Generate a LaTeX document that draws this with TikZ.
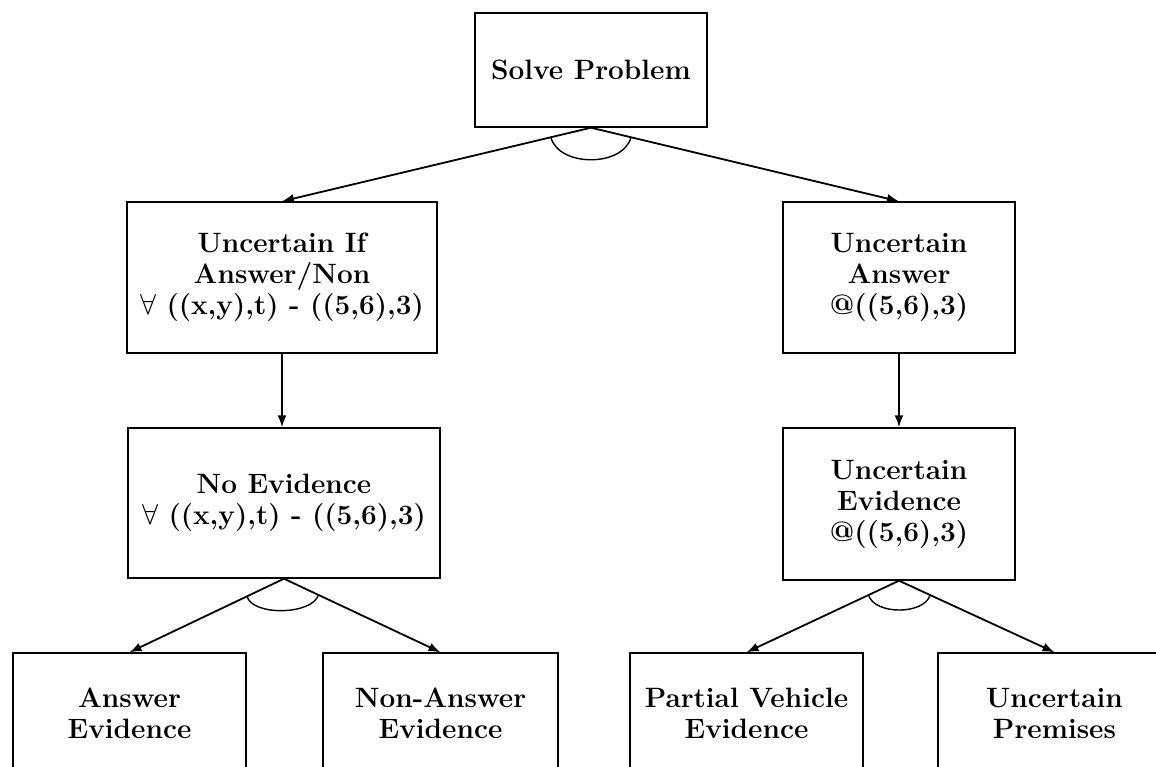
\documentclass[tikz,border=0pt]{standalone}
\usepackage{tikz}
\usetikzlibrary{calc,arrows.meta}

\tikzset{
	goal/.style={draw, line width=0.7pt, align=center, inner sep=2pt, font=\fontsize{14}{15.5}\selectfont\bfseries},
	link/.style={line width=0.9pt, -{Latex[length=6pt,width=4.5pt]}},
	andarc/.style={line width=0.7pt}
}

\begin{document}
\begin{tikzpicture}[x=0.5pt, y=-0.5pt]
			%%%%% START %%%%%
			\useasboundingbox[fill=white] (0, 0) rectangle (1156, 766);
			
			\node[goal, minimum width=116pt, minimum height=57pt] (solve) at (591, 70) {Solve Problem};
			
			\node[goal, minimum width=155pt, minimum height=75.5pt] (ifans) at (282, 277.5) {Uncertain If\\Answer/Non\\\(\forall\) ((x,y),t) - ((5,6),3)};
			\node[goal, minimum width=116pt, minimum height=75.5pt] (unans) at (899, 277.5) {Uncertain\\Answer\\@((5,6),3)};
			
			\node[goal, minimum width=156pt, minimum height=75pt] (noev) at (284, 503) {No Evidence\\\(\forall\) ((x,y),t) - ((5,6),3)};
			\node[goal, minimum width=116pt, minimum height=76pt] (unev) at (899, 504) {Uncertain\\Evidence\\@((5,6),3)};
			
			\node[goal, minimum width=116.5pt, minimum height=60pt] (ansev) at (129.5, 713) {Answer\\Evidence};
			\node[goal, minimum width=117.5pt, minimum height=60pt] (nonev) at (440.5, 713) {Non-Answer\\Evidence};
			\node[goal, minimum width=116.5pt, minimum height=60pt] (partev) at (746.5, 713) {Partial Vehicle\\Evidence};
			\node[goal, minimum width=116.5pt, minimum height=60pt] (unprem) at (1054.5, 713) {Uncertain\\Premises};
			
			\draw[link] (solve.south) -- (ifans.north);
			\draw[link] (solve.south) -- (unans.north);
			\draw[andarc] ($(solve.south)!0.13!(ifans.north)$) .. controls +(8, 30) and +(-8, 30) .. ($(solve.south)!0.13!(unans.north)$);
			
			\draw[link] (ifans.south) -- (ifans.south |- noev.north);
			\draw[link] (unans.south) -- (unans.south |- unev.north);
			
			\draw[link] (noev.south) -- (ansev.north);
			\draw[link] (noev.south) -- (nonev.north);
			\draw[andarc] ($(noev.south)!0.24!(ansev.north)$) .. controls +(6, 20) and +(-6, 20) .. ($(noev.south)!0.22!(nonev.north)$);
			
			\draw[link] (unev.south) -- (partev.north);
			\draw[link] (unev.south) -- (unprem.north);
			\draw[andarc] ($(unev.south)!0.2!(partev.north)$) .. controls +(6, 20) and +(-6, 20) .. ($(unev.south)!0.2!(unprem.north)$);
			
			%%%%% END %%%%%
\end{tikzpicture}
\end{document}
